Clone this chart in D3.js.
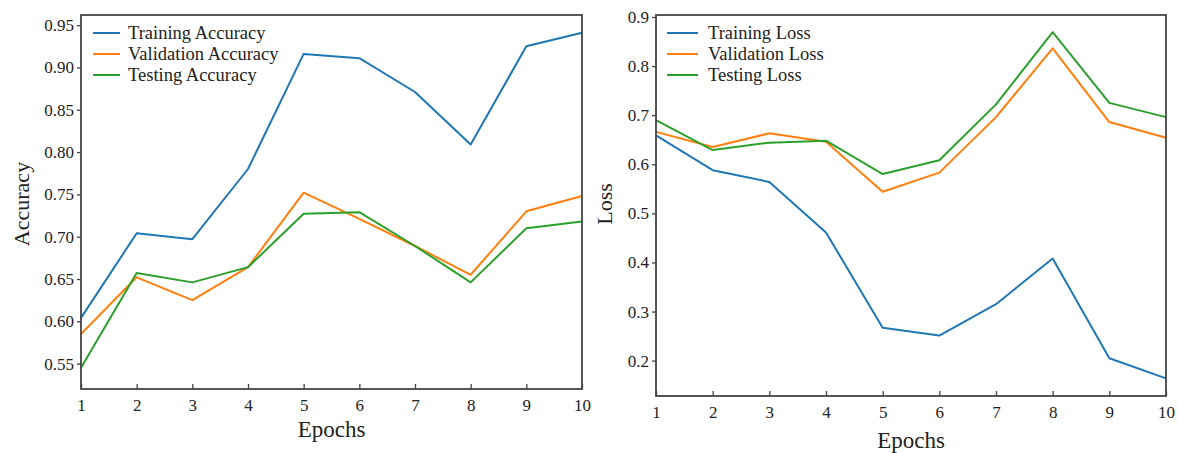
<!DOCTYPE html>
<html>
<head>
<meta charset="utf-8">
<script src="https://cdn.jsdelivr.net/npm/d3@7"></script>
<style>
  body { margin: 0; background: #ffffff; }
  svg { display: block; }
</style>
</head>
<body>
<script>

// epochs on the x axis
var epochs = [1, 2, 3, 4, 5, 6, 7, 8, 9, 10];

// accuracy curves
var trainAcc = [0.604, 0.704, 0.697, 0.780, 0.916, 0.911, 0.871, 0.809, 0.925, 0.941];
var valAcc   = [0.585, 0.652, 0.625, 0.664, 0.752, 0.721, 0.689, 0.655, 0.730, 0.748];
var testAcc  = [0.545, 0.657, 0.646, 0.664, 0.727, 0.729, 0.689, 0.646, 0.710, 0.718];

// loss curves
var trainLoss = [0.659, 0.588, 0.564, 0.461, 0.267, 0.251, 0.315, 0.408, 0.205, 0.164];
var valLoss   = [0.666, 0.635, 0.663, 0.646, 0.544, 0.583, 0.696, 0.836, 0.686, 0.654];
var testLoss  = [0.690, 0.629, 0.644, 0.648, 0.580, 0.608, 0.722, 0.869, 0.725, 0.696];

var accTicks  = [0.55, 0.60, 0.65, 0.70, 0.75, 0.80, 0.85, 0.90, 0.95];
var lossTicks = [0.2, 0.3, 0.4, 0.5, 0.6, 0.7, 0.8, 0.9];

var colors = ['#1f77b4', '#ff7f0e', '#2ca02c'];
var font = '"Liberation Serif", "Times New Roman", serif';
var frameColor = '#444444';

var width = 1179,
    height = 453;

var svg = d3.select('body')
    .append('svg')
    .attr('width', width)
    .attr('height', height);

var drawPanel = function(opt) {

    var x = d3.scaleLinear()
        .domain([1, 10])
        .range([opt.left, opt.right]);

    var y = d3.scaleLinear()
        .domain(opt.yDomain)
        .range([opt.bottom, opt.top]);

    var g = svg.append('g');

    // x axis, ticks point inward
    var xAxis = g.append('g')
        .attr('transform', 'translate(0,' + opt.bottom + ')')
        .call(d3.axisBottom(x)
            .tickValues(epochs)
            .tickFormat(d3.format('d'))
            .tickSizeInner(-5)
            .tickSizeOuter(0)
            .tickPadding(10));

    var yAxis = g.append('g')
        .attr('transform', 'translate(' + opt.left + ',0)')
        .call(d3.axisLeft(y)
            .tickValues(opt.yTicks)
            .tickFormat(d3.format(opt.yFormat))
            .tickSizeInner(4)
            .tickSizeOuter(0)
            .tickPadding(3));

    [xAxis, yAxis].forEach(function(a) {
        a.select('.domain').remove();
        a.selectAll('.tick line')
            .attr('stroke', frameColor)
            .attr('stroke-width', 1.3);
        a.selectAll('.tick text')
            .attr('font-family', font)
            .attr('font-size', '17px')
            .attr('fill', '#222');
    });

    // lines
    opt.series.forEach(function(s, i) {
        var line = d3.line()
            .x(function(d, j) { return x(epochs[j]); })
            .y(function(d) { return y(d); });

        g.append('path')
            .datum(s.values)
            .attr('d', line)
            .attr('fill', 'none')
            .attr('stroke', colors[i])
            .attr('stroke-width', 2)
            .attr('stroke-linejoin', 'round');
    });

    // frame
    g.append('rect')
        .attr('x', opt.left)
        .attr('y', opt.top)
        .attr('width', opt.right - opt.left)
        .attr('height', opt.bottom - opt.top)
        .attr('fill', 'none')
        .attr('stroke', frameColor)
        .attr('stroke-width', 1.8);

    // legend
    var leg = g.selectAll('.key')
        .data(opt.series)
        .enter()
        .append('g')
        .attr('transform', function(d, i) {
            return 'translate(' + opt.legendX + ',' + (opt.legendY + i * 21) + ')';
        });

    leg.append('line')
        .attr('x1', 0)
        .attr('x2', opt.legendLine)
        .attr('stroke', function(d, i) { return colors[i]; })
        .attr('stroke-width', 2);

    leg.append('text')
        .attr('x', opt.legendLine + opt.legendGap)
        .attr('dy', '0.33em')
        .attr('font-family', font)
        .attr('font-size', '18.5px')
        .attr('fill', '#222')
        .text(function(d) { return d.name; });

    // axis labels
    g.append('text')
        .attr('x', (opt.left + opt.right) / 2)
        .attr('y', opt.xLabelY)
        .attr('text-anchor', 'middle')
        .attr('font-family', font)
        .attr('font-size', '23px')
        .attr('fill', '#222')
        .text('Epochs');

    g.append('text')
        .attr('transform', 'translate(' + opt.yLabelX + ',' + opt.yLabelY + ') rotate(-90)')
        .attr('text-anchor', 'middle')
        .attr('font-family', font)
        .attr('font-size', '22px')
        .attr('fill', '#222')
        .text(opt.yLabel);
};

drawPanel({
    left: 81, right: 582, top: 15, bottom: 389,
    yDomain: [0.520, 0.962],
    yTicks: accTicks,
    yFormat: '.2f',
    series: [
        { name: 'Training Accuracy', values: trainAcc },
        { name: 'Validation Accuracy', values: valAcc },
        { name: 'Testing Accuracy', values: testAcc }
    ],
    legendX: 93, legendY: 33, legendLine: 27, legendGap: 8,
    xLabelY: 437,
    yLabel: 'Accuracy', yLabelX: 29, yLabelY: 204
});

drawPanel({
    left: 656, right: 1166, top: 15, bottom: 396,
    yDomain: [0.128, 0.904],
    yTicks: lossTicks,
    yFormat: '.1f',
    series: [
        { name: 'Training Loss', values: trainLoss },
        { name: 'Validation Loss', values: valLoss },
        { name: 'Testing Loss', values: testLoss }
    ],
    legendX: 667, legendY: 33, legendLine: 31, legendGap: 10,
    xLabelY: 448,
    yLabel: 'Loss', yLabelX: 612, yLabelY: 204
});

</script>
</body>
</html>
